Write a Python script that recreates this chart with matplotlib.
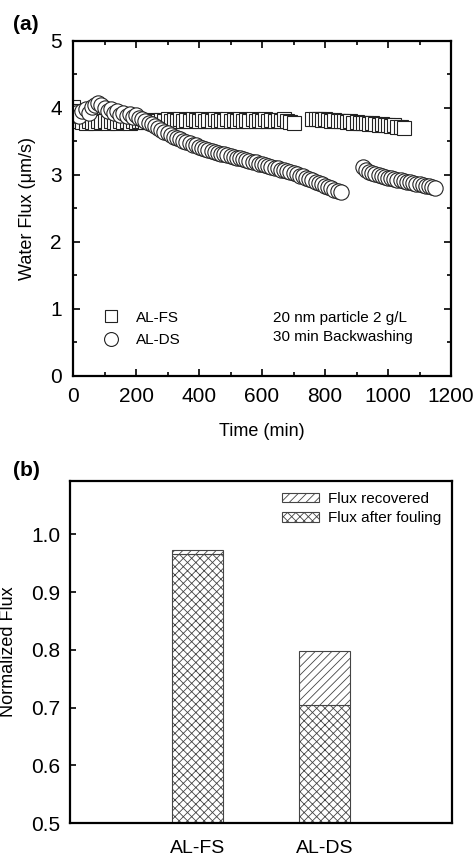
import matplotlib
matplotlib.use("Agg")
import matplotlib.pyplot as plt
from matplotlib.patches import Patch
from matplotlib.lines import Line2D

plt.rcParams['font.family'] = ['Liberation Sans', 'DejaVu Sans']
plt.rcParams['hatch.linewidth'] = 0.6
plt.rcParams['hatch.color'] = '#444444'

# (a) AL-FS water flux (squares)
fs_t1 = [0, 10, 20, 30, 40, 50, 60, 70, 80, 90, 100, 110, 120, 130, 140, 150, 160, 170, 180, 190,
         200, 210, 220, 230, 240, 250, 260, 270, 280, 290, 300, 310, 320, 330, 340, 350, 360, 370, 380, 390,
         400, 410, 420, 430, 440, 450, 460, 470, 480, 490, 500, 510, 520, 530, 540, 550, 560, 570, 580, 590,
         600, 610, 620, 630, 640, 650, 660, 670, 680, 690, 700]
fs_f1 = [4.02, 3.95, 3.80, 3.79, 3.78, 3.80, 3.79, 3.78, 3.80, 3.79, 3.81, 3.78, 3.80, 3.79, 3.78, 3.80, 3.79, 3.81, 3.78, 3.80,
         3.79, 3.80, 3.81, 3.79, 3.80, 3.82, 3.81, 3.80, 3.82, 3.81, 3.83, 3.80, 3.82, 3.81, 3.83, 3.80, 3.82, 3.81, 3.83, 3.82,
         3.80, 3.83, 3.81, 3.82, 3.80, 3.83, 3.81, 3.82, 3.80, 3.83, 3.81, 3.82, 3.80, 3.83, 3.81, 3.82, 3.80, 3.83, 3.81, 3.82,
         3.80, 3.83, 3.81, 3.82, 3.80, 3.82, 3.81, 3.83, 3.80, 3.79, 3.78]
fs_t2 = [760, 770, 780, 790, 800, 810, 820, 830, 840, 850, 860, 870, 880, 890, 900, 910, 920, 930, 940, 950,
         960, 970, 980, 990, 1000, 1010, 1020, 1030, 1040, 1050]
fs_f2 = [3.84, 3.83, 3.84, 3.82, 3.83, 3.82, 3.81, 3.82, 3.80, 3.81, 3.80, 3.79, 3.80, 3.78, 3.79, 3.78, 3.77, 3.78, 3.76, 3.77,
         3.76, 3.75, 3.76, 3.74, 3.75, 3.73, 3.74, 3.72, 3.71, 3.70]

# (a) AL-DS water flux (circles)
ds_t1 = [0, 10, 20, 30, 40, 50, 60, 70, 80, 90, 100, 110, 120, 130, 140, 150, 160, 170, 180, 190,
         200, 210, 220, 230, 240, 250, 260, 270, 280, 290, 300, 310, 320, 330, 340, 350, 360, 370, 380, 390,
         400, 410, 420, 430, 440, 450, 460, 470, 480, 490, 500, 510, 520, 530, 540, 550, 560, 570, 580, 590,
         600, 610, 620, 630, 640, 650, 660, 670, 680, 690, 700, 710, 720, 730, 740, 750, 760, 770, 780, 790,
         800, 810, 820, 830, 840, 850]
ds_f1 = [3.90, 3.92, 3.88, 3.95, 3.98, 3.93, 4.02, 4.05, 4.07, 4.04, 4.00, 3.95, 3.98, 3.92, 3.96, 3.90, 3.93, 3.88, 3.91, 3.87,
         3.89, 3.85, 3.83, 3.80, 3.78, 3.76, 3.73, 3.70, 3.67, 3.64, 3.62, 3.59, 3.57, 3.55, 3.53, 3.51, 3.49, 3.47, 3.45, 3.44,
         3.42, 3.40, 3.39, 3.37, 3.36, 3.35, 3.33, 3.32, 3.31, 3.30, 3.29, 3.27, 3.26, 3.25, 3.24, 3.22, 3.21, 3.20, 3.19, 3.17,
         3.16, 3.15, 3.13, 3.12, 3.11, 3.10, 3.08, 3.07, 3.06, 3.04, 3.03, 3.01, 2.99, 2.98, 2.96, 2.94, 2.92, 2.90, 2.88, 2.86,
         2.84, 2.82, 2.80, 2.78, 2.76, 2.75]
ds_t2 = [920, 930, 940, 950, 960, 970, 980, 990, 1000, 1010, 1020, 1030, 1040, 1050, 1060, 1070, 1080, 1090, 1100, 1110,
         1120, 1130, 1140, 1150]
ds_f2 = [3.12, 3.08, 3.05, 3.03, 3.01, 3.00, 2.98, 2.97, 2.96, 2.95, 2.94, 2.93, 2.92, 2.91, 2.90, 2.89, 2.88, 2.87, 2.86, 2.85,
         2.84, 2.83, 2.82, 2.80]

# (b) normalized flux
membranes = ['AL-FS', 'AL-DS']
flux_after_fouling = [0.965, 0.704]
flux_recovered = [0.007, 0.093]

fig = plt.figure(figsize=(4.75, 8.59), dpi=100)

# ---- panel (a)
ax1 = fig.add_axes([0.1537, 0.5623, 0.7958, 0.39])
mk = dict(linestyle='none', markerfacecolor='white', markeredgecolor='#222222', markeredgewidth=0.8)
ax1.plot(fs_t1, fs_f1, marker='s', markersize=10, **mk)
ax1.plot(fs_t2, fs_f2, marker='s', markersize=10, **mk)
ax1.plot(ds_t1, ds_f1, marker='o', markersize=11, **mk)
ax1.plot(ds_t2, ds_f2, marker='o', markersize=11, **mk)
ax1.set_xlim(0, 1200)
ax1.set_ylim(0, 5)
ax1.set_xticks([0, 200, 400, 600, 800, 1000, 1200])
ax1.set_yticks([0, 1, 2, 3, 4, 5])
ax1.set_xticks(range(100, 1200, 200), minor=True)
ax1.set_yticks([0.5, 1.5, 2.5, 3.5, 4.5], minor=True)
ax1.tick_params(which='both', direction='in', top=True, right=True, labelsize=15, width=1.2)
ax1.tick_params(which='major', length=5, pad=8)
ax1.tick_params(which='minor', length=3)
for s in ax1.spines.values():
    s.set_linewidth(1.6)
ax1.set_xlabel('Time (min)', fontsize=13, labelpad=12)
ax1.set_ylabel('Water Flux (\u03bcm/s)', fontsize=13, labelpad=10)

handles = [Line2D([], [], marker='s', markersize=9, **mk),
           Line2D([], [], marker='o', markersize=10, **mk)]
ax1.legend(handles, ['AL-FS', 'AL-DS'], loc='lower left', bbox_to_anchor=(0.04, 0.045),
           frameon=False, fontsize=11, handletextpad=1.0, labelspacing=0.55, handlelength=1.2)
ax1.text(0.53, 0.145, '20 nm particle 2 g/L\n30 min Backwashing', transform=ax1.transAxes,
         fontsize=11, va='center', ha='left', linespacing=1.5)
fig.text(0.027, 0.971, '(a)', fontsize=15, fontweight='bold', va='center')

# ---- panel (b)
ax2 = fig.add_axes([0.147, 0.0419, 0.8042, 0.398])
pos = [1, 2]
ax2.bar(pos, flux_after_fouling, width=0.4, bottom=0, color='white', edgecolor='#444444',
        hatch='xxxx', linewidth=0.8, label='Flux after fouling')
ax2.bar(pos, flux_recovered, width=0.4, bottom=flux_after_fouling, color='white', edgecolor='#444444',
        hatch='////', linewidth=0.8, label='Flux recovered')
ax2.set_xlim(0, 3)
ax2.set_ylim(0.5, 1.092)
ax2.set_xticks(pos)
ax2.set_xticklabels(membranes)
ax2.set_yticks([0.5, 0.6, 0.7, 0.8, 0.9, 1.0])
ax2.set_yticklabels(['0.5', '0.6', '0.7', '0.8', '0.9', '1.0'])
ax2.tick_params(axis='x', length=0, labelsize=14, pad=12)
ax2.tick_params(axis='y', direction='in', length=4, labelsize=15, width=1.2, pad=7)
for s in ax2.spines.values():
    s.set_linewidth(1.6)
ax2.set_ylabel('Normalized Flux', fontsize=13, labelpad=10)
leg_handles = [Patch(facecolor='white', edgecolor='#444444', hatch='////', linewidth=0.8),
               Patch(facecolor='white', edgecolor='#444444', hatch='xxxx', linewidth=0.8)]
ax2.legend(leg_handles, ['Flux recovered', 'Flux after fouling'], loc='upper right',
           frameon=False, fontsize=11, handlelength=2.4, handleheight=0.6,
           labelspacing=0.35, handletextpad=0.6, borderaxespad=0.3)
fig.text(0.027, 0.4517, '(b)', fontsize=15, fontweight='bold', va='center')

fig.savefig('out.png', dpi=100)
